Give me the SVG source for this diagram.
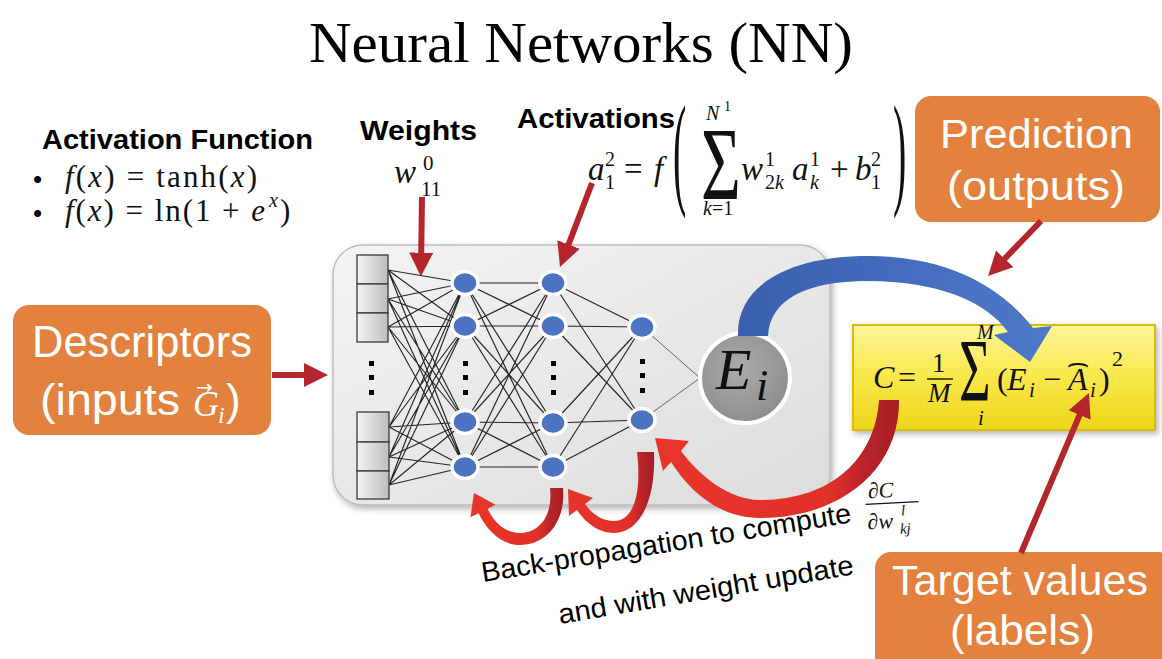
<svg xmlns="http://www.w3.org/2000/svg" width="1162" height="659" viewBox="0 0 1162 659">
<defs>
<style>
.sans{font-family:"Liberation Sans",Arial,sans-serif;fill:#000}
.serif{font-family:"Liberation Serif","Times New Roman",serif;fill:#000}
.m{font-family:"Liberation Serif","DejaVu Serif",serif;fill:#111}
.it{font-style:italic}
.b{font-weight:bold}
.obox{fill:#E3823E}
.wt{font-family:"Liberation Sans",Arial,sans-serif;fill:#fff}
.edge{stroke:#262626;stroke-width:1.15;fill:none}
.edge2{stroke:#555;stroke-width:0.9;fill:none}
.node{fill:#4B73C2;stroke:#fff;stroke-width:3.5}
.inp{fill:url(#inpG);stroke:#3a3a3a;stroke-width:1.3}
.red{stroke:#B5262C;stroke-width:6;fill:none;marker-end:url(#ah)}
.dot{fill:#000}
.bp{fill:url(#bpG)}
</style>
<linearGradient id="inpG" x1="0" y1="0" x2="1" y2="0"><stop offset="0" stop-color="#f4f4f4"/><stop offset="1" stop-color="#bdbdbd"/></linearGradient>
<linearGradient id="netG" x1="0" y1="0" x2="1" y2="1"><stop offset="0" stop-color="#f4f4f4"/><stop offset="1" stop-color="#dcdcdc"/></linearGradient>
<linearGradient id="yelG" x1="0" y1="0" x2="0" y2="1"><stop offset="0" stop-color="#FFF59A"/><stop offset="0.5" stop-color="#F9E84A"/><stop offset="1" stop-color="#EDD51A"/></linearGradient>
<radialGradient id="eiG" cx="0.45" cy="0.4" r="0.6"><stop offset="0" stop-color="#ababab"/><stop offset="1" stop-color="#8e8e8e"/></radialGradient>
<linearGradient id="bpG" x1="0" y1="0" x2="1" y2="0"><stop offset="0" stop-color="#E8352B"/><stop offset="0.72" stop-color="#E2302A"/><stop offset="0.86" stop-color="#B8242A"/><stop offset="1" stop-color="#A51E22"/></linearGradient>
<linearGradient id="blG" x1="0" y1="0" x2="1" y2="0"><stop offset="0" stop-color="#3A5FAE"/><stop offset="1" stop-color="#4D79C9"/></linearGradient>
<filter id="sh" x="-10%" y="-10%" width="130%" height="130%"><feDropShadow dx="2" dy="3" stdDeviation="3" flood-color="#000" flood-opacity="0.3"/></filter>
<marker id="ah" viewBox="0 0 10 10" refX="6" refY="5" markerWidth="4" markerHeight="4" orient="auto"><path d="M0,0 L10,5 L0,10 z" fill="#B5262C"/></marker>
</defs>
<rect width="1162" height="659" fill="#fff"/>

<text class="serif" x="581" y="62" font-size="58" text-anchor="middle" textLength="544" lengthAdjust="spacingAndGlyphs">Neural Networks (NN)</text>

<g id="activation-function">
<text class="sans b" x="42" y="149" font-size="28" textLength="271" lengthAdjust="spacingAndGlyphs">Activation Function</text>
<text class="sans" x="33" y="188" font-size="26">•</text>
<text class="sans" x="33" y="222" font-size="26">•</text>
<text class="m" x="65" y="187" font-size="31" textLength="192" lengthAdjust="spacing"><tspan class="it">f</tspan>(<tspan class="it">x</tspan>) = tanh(<tspan class="it">x</tspan>)</text>
<text class="m" x="65" y="221" font-size="31" textLength="200" lengthAdjust="spacing"><tspan class="it">f</tspan>(<tspan class="it">x</tspan>) = ln(1 + <tspan class="it">e</tspan></text>
<text class="m it" x="269" y="207" font-size="20">x</text>
<text class="m" x="280" y="221" font-size="31">)</text>
</g>

<g id="weights-label">
<text class="sans b" x="360" y="140" font-size="27" textLength="117" lengthAdjust="spacingAndGlyphs">Weights</text>
<text class="m it" x="394" y="183" font-size="33">w</text>
<text class="m" x="423" y="170" font-size="21">0</text>
<text class="m" x="421" y="196" font-size="21">11</text>
</g>

<g id="activations-label">
<text class="sans b" x="517" y="128" font-size="28" textLength="158" lengthAdjust="spacingAndGlyphs">Activations</text>
<text class="m it" x="588" y="180" font-size="33">a</text>
<text class="m" x="605" y="166" font-size="20">2</text>
<text class="m" x="605" y="189" font-size="20">1</text>
<text class="m" x="624" y="180" font-size="33">=</text>
<text class="m it" x="654" y="180" font-size="33">f</text>
<text class="m" font-size="40" transform="translate(673,192) scale(1,3.15)">(</text>
<text class="m it" x="706" y="120" font-size="20">N</text>
<text class="m" x="724" y="111" font-size="14">1</text>
<text class="m" font-size="72" transform="translate(701,199) scale(0.95,1.45)">Σ</text>
<text class="m" x="703" y="215" font-size="20"><tspan class="it">k</tspan>=1</text>
<text class="m it" x="741" y="180" font-size="33">w</text>
<text class="m" x="765" y="166" font-size="20">1</text>
<text class="m" x="765" y="189" font-size="20">2<tspan class="it">k</tspan></text>
<text class="m it" x="792" y="180" font-size="33">a</text>
<text class="m" x="810" y="166" font-size="20">1</text>
<text class="m it" x="810" y="189" font-size="20">k</text>
<text class="m" x="830" y="180" font-size="33">+</text>
<text class="m it" x="855" y="180" font-size="33">b</text>
<text class="m" x="871" y="166" font-size="20">2</text>
<text class="m" x="871" y="189" font-size="20">1</text>
<text class="m" font-size="40" transform="translate(893,192) scale(1,3.15)">)</text>
</g>

<g id="network-box">
<rect x="333" y="245" width="497" height="260" rx="30" fill="url(#netG)" stroke="#bdbdbd" stroke-width="1.5" filter="url(#sh)"/>
</g>

<g id="edges">
<path class="edge" d="M388 270L465 283M388 270L465 326M388 270L465 422M388 270L465 467M388 299L465 283M388 299L465 326M388 299L465 422M388 299L465 467M388 327L465 283M388 327L465 326M388 327L465 422M388 327L465 467M389 427L465 283M389 427L465 326M389 427L465 422M389 427L465 467M389 457L465 283M389 457L465 326M389 457L465 422M389 457L465 467M389 485L465 283M389 485L465 326M389 485L465 422M389 485L465 467"/>
<path class="edge" d="M465 283L553 283M465 283L553 326M465 283L553 423M465 283L553 467M465 326L553 283M465 326L553 326M465 326L553 423M465 326L553 467M465 422L553 283M465 422L553 326M465 422L553 423M465 422L553 467M465 467L553 283M465 467L553 326M465 467L553 423M465 467L553 467"/>
<path class="edge" d="M553 283L642 327M553 283L642 420M553 326L642 327M553 326L642 420M553 423L642 327M553 423L642 420M553 467L642 327M553 467L642 420"/>
<path class="edge2" d="M642 327L700 378M642 420L700 378"/>
</g>

<g id="input-top">
<rect class="inp" x="357" y="255" width="31" height="29"/>
<rect class="inp" x="357" y="284" width="31" height="29"/>
<rect class="inp" x="357" y="313" width="31" height="29"/>
</g>
<g id="input-dots">
<rect class="dot" x="369" y="361" width="5" height="5"/>
<rect class="dot" x="369" y="375" width="5" height="5"/>
<rect class="dot" x="369" y="390" width="5" height="5"/>
</g>
<g id="input-bottom">
<rect class="inp" x="357" y="412" width="32" height="30"/>
<rect class="inp" x="357" y="442" width="32" height="29"/>
<rect class="inp" x="357" y="471" width="32" height="28"/>
</g>

<g id="hidden1">
<ellipse class="node" cx="465" cy="283" rx="13" ry="11.5"/>
<ellipse class="node" cx="465" cy="326" rx="13" ry="11.5"/>
<rect class="dot" x="463" y="361" width="5" height="5"/>
<rect class="dot" x="463" y="375" width="5" height="5"/>
<rect class="dot" x="463" y="390" width="5" height="5"/>
<ellipse class="node" cx="465" cy="422" rx="13" ry="11.5"/>
<ellipse class="node" cx="465" cy="467" rx="13" ry="11.5"/>
</g>
<g id="hidden2">
<ellipse class="node" cx="553" cy="283" rx="13" ry="11.5"/>
<ellipse class="node" cx="553" cy="326" rx="13" ry="11.5"/>
<rect class="dot" x="551" y="361" width="5" height="5"/>
<rect class="dot" x="551" y="375" width="5" height="5"/>
<rect class="dot" x="551" y="390" width="5" height="5"/>
<ellipse class="node" cx="553" cy="423" rx="13" ry="11.5"/>
<ellipse class="node" cx="553" cy="467" rx="13" ry="11.5"/>
</g>
<g id="hidden3">
<ellipse class="node" cx="642" cy="327" rx="13" ry="11.5"/>
<rect class="dot" x="640" y="359" width="5" height="5"/>
<rect class="dot" x="640" y="373" width="5" height="5"/>
<rect class="dot" x="640" y="388" width="5" height="5"/>
<ellipse class="node" cx="642" cy="420" rx="13" ry="11.5"/>
</g>

<g id="output-Ei">
<circle cx="745" cy="378" r="45" fill="url(#eiG)" stroke="#fff" stroke-width="4"/>
<text class="m it" x="716" y="389" font-size="58">E</text>
<text class="m it" x="756" y="400" font-size="44">i</text>
</g>

<g id="descriptors">
<rect class="obox" x="13" y="305" width="258" height="130" rx="16"/>
<text class="wt" x="32" y="357" font-size="44" textLength="220" lengthAdjust="spacingAndGlyphs">Descriptors</text>
<text class="wt" x="40" y="415" font-size="44" textLength="140" lengthAdjust="spacingAndGlyphs">(inputs</text>
<text class="wt" x="196" y="394" font-size="20" style="font-family:'DejaVu Sans',sans-serif">→</text>
<text class="wt it" x="193" y="416" font-size="36" style="font-family:'Liberation Serif',serif">G</text>
<text class="wt it" x="218" y="423" font-size="24" style="font-family:'Liberation Serif',serif">i</text>
<text class="wt" x="226" y="415" font-size="44">)</text>
</g>

<g id="prediction">
<rect class="obox" x="915" y="96" width="245" height="126" rx="16"/>
<text class="wt" x="940" y="148" font-size="40" textLength="193" lengthAdjust="spacingAndGlyphs">Prediction</text>
<text class="wt" x="947" y="200" font-size="40" textLength="178" lengthAdjust="spacingAndGlyphs">(outputs)</text>
</g>

<g id="target">
<rect class="obox" x="875" y="552" width="300" height="130" rx="16"/>
<text class="wt" x="892" y="595" font-size="42" textLength="256" lengthAdjust="spacingAndGlyphs">Target values</text>
<text class="wt" x="950" y="645" font-size="42" textLength="145" lengthAdjust="spacingAndGlyphs">(labels)</text>
</g>

<g id="cost">
<rect x="853" y="325" width="302" height="105" fill="url(#yelG)" stroke="#D8BE00" stroke-width="2" filter="url(#sh)"/>
<text class="m it" x="873" y="388" font-size="32">C</text>
<text class="m" x="898" y="388" font-size="32">=</text>
<text class="m" x="932" y="372" font-size="27">1</text>
<line x1="927" y1="379" x2="953" y2="379" stroke="#111" stroke-width="1.4"/>
<text class="m it" x="928" y="402" font-size="27">M</text>
<text class="m" font-size="64" transform="translate(959,400) scale(0.85,1.38)">Σ</text>
<text class="m it" x="977" y="339" font-size="20">M</text>
<text class="m it" x="978" y="425" font-size="21">i</text>
<text class="m" x="997" y="390" font-size="32">(</text>
<text class="m it" x="1007" y="390" font-size="32">E</text>
<text class="m it" x="1029" y="397" font-size="21">i</text>
<text class="m" x="1043" y="390" font-size="32">−</text>
<text class="m it" x="1068" y="390" font-size="32">A</text>
<text class="m" x="1066" y="372" font-size="28" transform="translate(1066,0) scale(1.3,1) translate(-1066,0)" style="font-family:'DejaVu Sans',sans-serif">⌢</text>
<text class="m it" x="1090" y="397" font-size="21">i</text>
<text class="m" x="1099" y="390" font-size="32">)</text>
<text class="m" x="1112" y="366" font-size="22">2</text>
</g>

<g id="backprop-label">
<text class="sans" font-size="28" transform="translate(483,582) rotate(-9.2)" textLength="374" lengthAdjust="spacingAndGlyphs">Back-propagation  to compute</text>
<text class="sans" font-size="28" transform="translate(560,624) rotate(-9.6)" textLength="299" lengthAdjust="spacingAndGlyphs">and with weight update</text>
<g transform="rotate(-3 893 512)">
<text class="m" x="869" y="497" font-size="22">∂<tspan class="it">C</tspan></text>
<line x1="866" y1="503" x2="919" y2="503" stroke="#111" stroke-width="1.2"/>
<text class="m" x="867" y="528" font-size="22">∂<tspan class="it">w</tspan></text>
<text class="m it" x="901" y="516" font-size="15">l</text>
<text class="m it" x="899" y="534" font-size="15">kj</text>
</g>
</g>

<g id="connectors">
<line class="red" x1="422" y1="197" x2="421" y2="267"/>
<line class="red" x1="592" y1="183" x2="563.4" y2="258"/>
<line class="red" x1="272" y1="375" x2="318.4" y2="375"/>
<line class="red" x1="1041" y1="221" x2="994.7" y2="269.1"/>
<line class="red" x1="1021" y1="553" x2="1085.2" y2="401.8"/>
<path fill="url(#blG)" d="M738,336 C736,285 790,256 868,256 C945,256 1000,285 1033,328 L1052,326 L1030,362 L994,335 L1008,332 C985,300 935,281 868,281 C805,281 770,300 768,336 Z"/>
<path class="bp" d="M899,400 C900,470 840,518 760,518 C720,518 690,492 671,462 L663,471 L655,438 L689,441 L681,451 C698,474 728,500 760,500 C830,500 875,460 879,400 Z"/>
<path class="bp" d="M654,452 C656,500 640,533 614,533 C598,533 585,522 577,510 L569,516 L568,489 L593,498 L585,504 C592,514 602,521 614,521 C633,521 642,495 637,452 Z"/>
<path class="bp" d="M563,488 C566,522 546,545 520,545 C502,545 488,532 478.5,513.3 L470.4,517.3 L474,493 L495.6,504.7 L487.5,508.8 C495,524 506,533 520,533 C540,533 553,515 550,488 Z"/>
</g>
</svg>
